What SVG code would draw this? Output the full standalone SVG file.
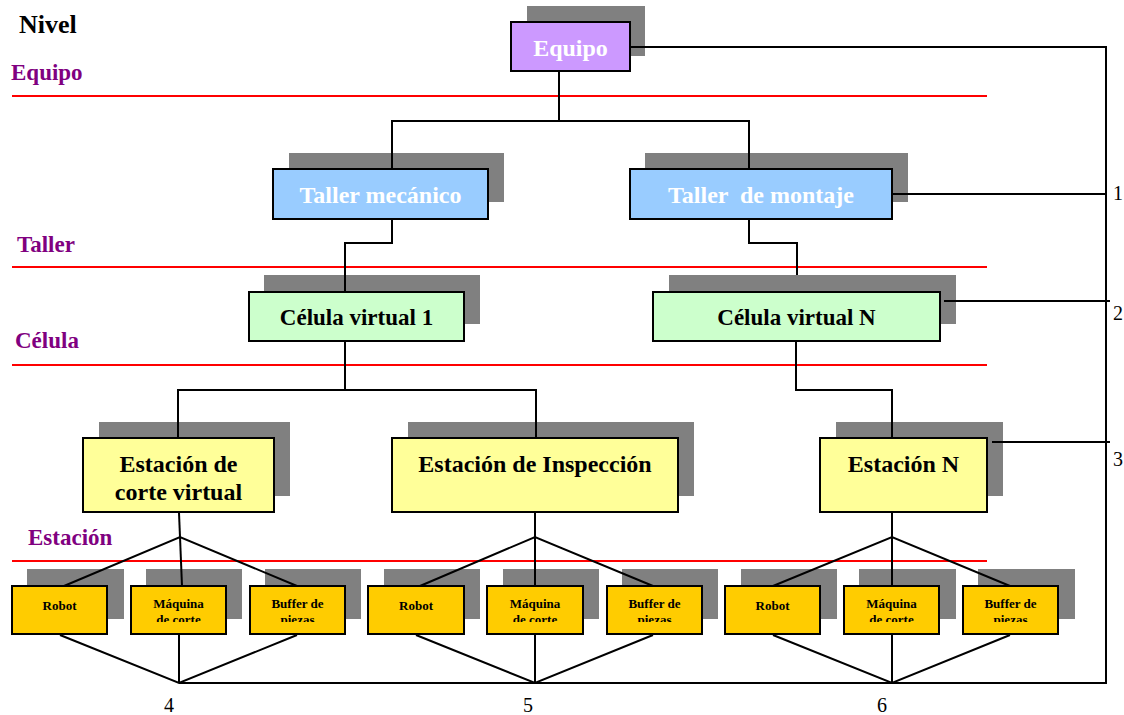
<svg xmlns="http://www.w3.org/2000/svg" width="1124" height="715" viewBox="0 0 1124 715">
  <style>
    .shadow { fill: #808080; }
    .box { stroke: #000; stroke-width: 2; }
    .equipo { fill: #CC99FF; }
    .taller { fill: #99CCFF; }
    .celula { fill: #CCFFCC; }
    .estacion { fill: #FFFF99; }
    .unidad { fill: #FFCC00; }
    .t { font-family: "Liberation Serif", "Times New Roman", serif; font-weight: bold; text-anchor: middle; }
    .big { font-size: 24px; }
    .mid { font-size: 23px; }
    .small { font-size: 13px; fill: #000; }
    .white { fill: #fff; }
    .black { fill: #000; }
    .level { font-family: "Liberation Serif", "Times New Roman", serif; font-weight: bold; font-size: 23px; fill: #800080; }
    .num { font-family: "Liberation Serif", "Times New Roman", serif; font-size: 20px; fill: #000; }
    .sep { stroke: #FF0000; stroke-width: 2; fill: none; }
    .link { stroke: #000; stroke-width: 2; fill: none; stroke-linejoin: miter; }
  </style>
  <defs>
    <clipPath id="rowClip">
      <rect x="0" y="0" width="1124" height="622"/>
    </clipPath>
  </defs>

  <rect width="1124" height="715" fill="#fff"/>

  <!-- level labels and separators -->
  <g id="levels">
    <text x="19" y="33" font-family="Liberation Serif, Times New Roman, serif" font-weight="bold" font-size="26" fill="#000">Nivel</text>
    <text class="level" x="11" y="80">Equipo</text>
    <line class="sep" x1="12" y1="96" x2="987" y2="96"/>
    <text class="level" x="17" y="252">Taller</text>
    <line class="sep" x1="12" y1="267" x2="987" y2="267"/>
    <text class="level" x="15" y="348">Célula</text>
    <line class="sep" x1="12" y1="365" x2="987" y2="365"/>
    <text class="level" x="28" y="545">Estación</text>
    <line class="sep" x1="12" y1="561" x2="987" y2="561"/>
  </g>

  <!-- nodes -->
  <g id="node-equipo">
    <rect class="shadow" x="527" y="6" width="118" height="50"/>
    <rect class="box equipo" x="511" y="22" width="119" height="49"/>
    <text class="t big white" x="570.5" y="56">Equipo</text>
  </g>

  <g id="node-taller-mecanico">
    <rect class="shadow" x="289" y="153" width="215" height="49"/>
    <rect class="box taller" x="273" y="169" width="215" height="50"/>
    <text class="t big white" x="380.5" y="203">Taller mecánico</text>
  </g>

  <g id="node-taller-montaje">
    <rect class="shadow" x="645" y="153" width="263" height="49"/>
    <rect class="box taller" x="630" y="169" width="262" height="50"/>
    <text class="t big white" x="761" y="203" xml:space="preserve">Taller  de montaje</text>
  </g>

  <g id="node-celula-1">
    <rect class="shadow" x="264" y="275" width="216" height="49"/>
    <rect class="box celula" x="249" y="292" width="215" height="49"/>
    <text class="t mid black" x="356.5" y="325">Célula virtual 1</text>
  </g>

  <g id="node-celula-n">
    <rect class="shadow" x="669" y="275" width="287" height="49"/>
    <rect class="box celula" x="653" y="292" width="287" height="49"/>
    <text class="t mid black" x="796.5" y="325">Célula virtual N</text>
  </g>

  <g id="node-estacion-corte">
    <rect class="shadow" x="99" y="422" width="191" height="74"/>
    <rect class="box estacion" x="83" y="438" width="191" height="74"/>
    <text class="t big black" x="178.5" y="472">Estación de</text>
    <text class="t big black" x="178.5" y="500">corte virtual</text>
  </g>

  <g id="node-estacion-inspeccion">
    <rect class="shadow" x="408" y="422" width="286" height="74"/>
    <rect class="box estacion" x="392" y="438" width="286" height="74"/>
    <text class="t big black" x="535" y="472">Estación de Inspección</text>
  </g>

  <g id="node-estacion-n">
    <rect class="shadow" x="836" y="422" width="167" height="74"/>
    <rect class="box estacion" x="820" y="438" width="167" height="74"/>
    <text class="t big black" x="903.5" y="472">Estación N</text>
  </g>

  <!-- station 1 units -->
  <g id="node-robot-1">
    <rect class="shadow" x="27" y="569" width="97" height="50"/>
    <rect class="box unidad" x="12" y="586" width="95" height="48"/>
    <text class="t small" x="59.5" y="610">Robot</text>
  </g>
  <g id="node-maquina-1">
    <rect class="shadow" x="146" y="569" width="96" height="50"/>
    <rect class="box unidad" x="131" y="586" width="95" height="48"/>
    <text class="t small" x="178.5" y="608">Máquina</text>
    <text class="t small" x="178.5" y="624" clip-path="url(#rowClip)">de corte</text>
  </g>
  <g id="node-buffer-1">
    <rect class="shadow" x="265" y="569" width="96" height="50"/>
    <rect class="box unidad" x="250" y="586" width="95" height="48"/>
    <text class="t small" x="297.5" y="608">Buffer de</text>
    <text class="t small" x="297.5" y="624" clip-path="url(#rowClip)">piezas</text>
  </g>

  <!-- station 2 units -->
  <g id="node-robot-2">
    <rect class="shadow" x="384" y="569" width="96" height="50"/>
    <rect class="box unidad" x="368" y="586" width="96" height="48"/>
    <text class="t small" x="416" y="610">Robot</text>
  </g>
  <g id="node-maquina-2">
    <rect class="shadow" x="503" y="569" width="96" height="50"/>
    <rect class="box unidad" x="487" y="586" width="96" height="48"/>
    <text class="t small" x="535" y="608">Máquina</text>
    <text class="t small" x="535" y="624" clip-path="url(#rowClip)">de corte</text>
  </g>
  <g id="node-buffer-2">
    <rect class="shadow" x="622" y="569" width="96" height="50"/>
    <rect class="box unidad" x="607" y="586" width="95" height="48"/>
    <text class="t small" x="654.5" y="608">Buffer de</text>
    <text class="t small" x="654.5" y="624" clip-path="url(#rowClip)">piezas</text>
  </g>

  <!-- station N units -->
  <g id="node-robot-3">
    <rect class="shadow" x="741" y="569" width="96" height="50"/>
    <rect class="box unidad" x="725" y="586" width="95" height="48"/>
    <text class="t small" x="772.5" y="610">Robot</text>
  </g>
  <g id="node-maquina-3">
    <rect class="shadow" x="859" y="569" width="97" height="50"/>
    <rect class="box unidad" x="844" y="586" width="95" height="48"/>
    <text class="t small" x="891.5" y="608">Máquina</text>
    <text class="t small" x="891.5" y="624" clip-path="url(#rowClip)">de corte</text>
  </g>
  <g id="node-buffer-3">
    <rect class="shadow" x="978" y="569" width="97" height="50"/>
    <rect class="box unidad" x="963" y="586" width="95" height="48"/>
    <text class="t small" x="1010.5" y="608">Buffer de</text>
    <text class="t small" x="1010.5" y="624" clip-path="url(#rowClip)">piezas</text>
  </g>

  <!-- connectors -->
  <g id="connectors">
    <!-- hierarchy -->
    <polyline class="link" points="559,72 559,121"/>
    <polyline class="link" points="392,169 392,121 749,121 749,169"/>
    <polyline class="link" points="392,220 392,243 345,243 345,292"/>
    <polyline class="link" points="749,220 749,243 797,243 797,275"/>
    <polyline class="link" points="178,438 178,390 536,390 536,438"/>
    <polyline class="link" points="345,342 345,390"/>
    <polyline class="link" points="796,342 796,390 892,390 892,438"/>

    <!-- station fan-out (top) -->
    <polyline class="link" points="179,513 180,537"/>
    <polyline class="link" points="64,586 180,537 297,586"/>
    <polyline class="link" points="180,537 182,586"/>
    <polyline class="link" points="535,513 535,537"/>
    <polyline class="link" points="420,586 535,537 653,586"/>
    <polyline class="link" points="535,537 535,586"/>
    <polyline class="link" points="892,513 892,537"/>
    <polyline class="link" points="773,586 892,537 1010,586"/>
    <polyline class="link" points="892,537 892,586"/>

    <!-- station fan-in (bottom) -->
    <polyline class="link" points="60,635 179,683 297,635"/>
    <polyline class="link" points="179,635 179,683"/>
    <polyline class="link" points="416,635 535,683 653,635"/>
    <polyline class="link" points="535,635 535,683"/>
    <polyline class="link" points="773,635 892,683 1010,635"/>
    <polyline class="link" points="892,635 892,683"/>

    <!-- communication bus -->
    <polyline class="link" points="631,47 1106,47 1106,683 179,683"/>
    <polyline class="link" points="893,194 1106,194"/>
    <polyline class="link" points="944,301 1110,301"/>
    <polyline class="link" points="992,442 1110,442"/>
  </g>

  <!-- bus numbering -->
  <g id="bus-labels">
    <text class="num" x="1113" y="200">1</text>
    <text class="num" x="1113" y="320">2</text>
    <text class="num" x="1113" y="466">3</text>
    <text class="num" x="169" y="712" text-anchor="middle">4</text>
    <text class="num" x="528" y="712" text-anchor="middle">5</text>
    <text class="num" x="882" y="712" text-anchor="middle">6</text>
  </g>
</svg>
